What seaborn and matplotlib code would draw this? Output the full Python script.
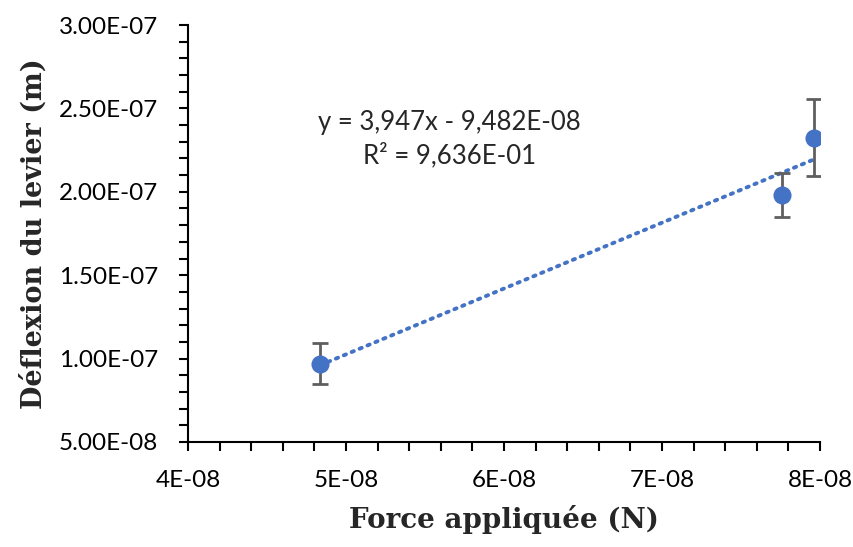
import numpy as np
import pandas as pd
import matplotlib
matplotlib.use("Agg")
import matplotlib.pyplot as plt
import seaborn as sns
from matplotlib.ticker import MultipleLocator, FuncFormatter

# Data
force = [4.836e-8, 7.76e-8, 7.96e-8]
deflexion = [9.70e-8, 1.979e-7, 2.325e-7]
err = [1.25e-8, 1.33e-8, 2.33e-8]

# Trendline coefficients (shown on chart)
slope = 3.947
intercept = -9.482e-8

df = pd.DataFrame({"force": force, "deflexion": deflexion})

sns.set_style("white")
plt.rcParams["font.family"] = ["Lato", "DejaVu Sans"]

fig = plt.figure(figsize=(8.54, 5.47), dpi=100)
ax = fig.add_axes([188 / 854, 105 / 547, 632 / 854, 417 / 547])

# Trendline
xt = np.array([min(force), max(force)])
trend = pd.DataFrame({"force": xt, "deflexion": slope * xt + intercept})
sns.lineplot(data=trend, x="force", y="deflexion", ax=ax, color="#4472C4",
             linestyle=(0, (0.6, 1.6)), linewidth=2.8,
             dash_capstyle="round", zorder=2)

# Error bars
ax.errorbar(force, deflexion, yerr=err, fmt="none", ecolor="#5f5f5f",
            elinewidth=2, capsize=6, capthick=2, zorder=3)

# Points
sns.scatterplot(data=df, x="force", y="deflexion", ax=ax, color="#4472C4",
                s=170, edgecolor="#4472C4", linewidth=0, zorder=4)

ax.set_xlim(4e-8, 8e-8)
ax.set_ylim(5e-8, 3e-7)
ax.xaxis.set_major_locator(MultipleLocator(1e-8))
ax.xaxis.set_minor_locator(MultipleLocator(2e-9))
ax.yaxis.set_major_locator(MultipleLocator(5e-8))
ax.yaxis.set_minor_locator(MultipleLocator(1e-8))
ax.xaxis.set_major_formatter(FuncFormatter(lambda v, p: f"{v / 1e-8:.0f}E-08"))
ax.yaxis.set_major_formatter(FuncFormatter(
    lambda v, p: f"{v / 1e-7:.2f}E-07" if v >= 1e-7 - 1e-12 else f"{v / 1e-8:.2f}E-08"))

for s in ["top", "right"]:
    ax.spines[s].set_visible(False)
for s in ["left", "bottom"]:
    ax.spines[s].set_color("#000000")
    ax.spines[s].set_linewidth(1.5)

ax.tick_params(axis="both", which="both", bottom=True, left=True,
               direction="out", length=6.5, width=1.5, color="#000000")
ax.tick_params(axis="both", which="major", labelsize=17.5, labelcolor="#000000")
ax.tick_params(axis="x", which="major", pad=14)
ax.tick_params(axis="y", which="major", pad=15)

ax.set_xlabel("Force appliquée (N)", fontsize=20, family="DejaVu Serif",
              fontweight="bold", labelpad=10)
ax.set_ylabel("Déflexion du levier (m)", fontsize=19.5, family="DejaVu Serif",
              fontweight="bold", labelpad=8)

ax.text(0.414, 0.765, "y = 3,947x - 9,482E-08", transform=ax.transAxes,
        ha="center", va="center", fontsize=18.5)
ax.text(0.414, 0.686, "R² = 9,636E-01", transform=ax.transAxes,
        ha="center", va="center", fontsize=18.5)

fig.savefig("out.png", dpi=100)
